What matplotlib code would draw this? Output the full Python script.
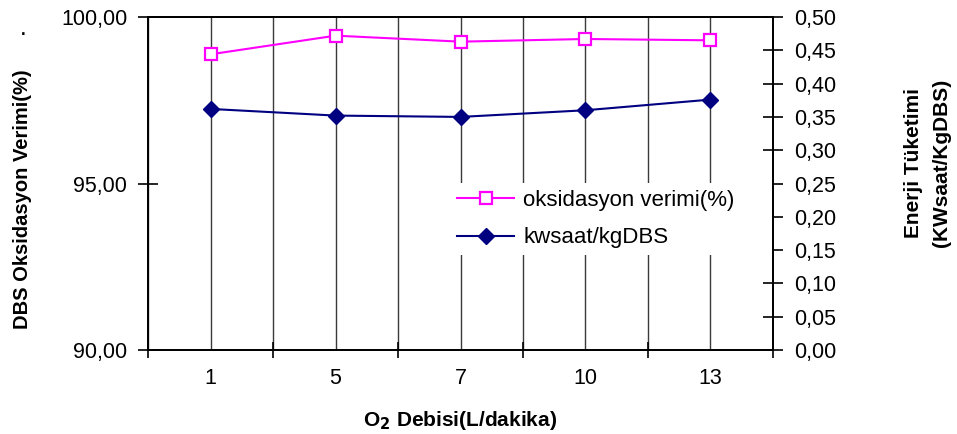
import matplotlib
matplotlib.use("Agg")
import matplotlib.pyplot as plt
from matplotlib.ticker import FixedLocator, FuncFormatter

# O2 flow rates (L/dakika) and the measured series
flow_rates = ["1", "5", "7", "10", "13"]
oxidation_eff = [98.88, 99.44, 99.26, 99.34, 99.30]   # DBS oksidasyon verimi (%)
energy_use = [0.362, 0.352, 0.350, 0.360, 0.376]      # kWsaat / kgDBS

left_ticks = [90, 95, 100]
right_ticks = [0.00, 0.05, 0.10, 0.15, 0.20, 0.25, 0.30, 0.35, 0.40, 0.45, 0.50]

plt.rcParams["font.family"] = ["Liberation Sans", "DejaVu Sans"]

fig = plt.figure(figsize=(9.57, 4.34), dpi=100)
ax = fig.add_axes([0.1547, 0.1935, 0.8077 - 0.1547, 0.9608 - 0.1935])
ax2 = ax.twinx()

x = list(range(len(flow_rates)))

l1, = ax.plot(x, oxidation_eff, color="#FF00FF", lw=1.5, marker="s", ms=8,
              mfc="white", mec="#FF00FF", mew=1.6, label="oksidasyon verimi(%)",
              zorder=3)
l2, = ax2.plot(x, energy_use, color="#000080", lw=1.5, marker="D", ms=8,
               mfc="#000080", mec="#000080", label="kwsaat/kgDBS", zorder=3)

# x axis: labels at category centres, tick marks at category boundaries
ax.set_xlim(-0.5, len(flow_rates) - 0.5)
ax.xaxis.set_major_locator(FixedLocator(x))
ax.set_xticklabels(flow_rates)
ax.xaxis.set_minor_locator(FixedLocator([i - 0.5 for i in range(len(flow_rates) + 1)]))
ax.tick_params(axis="x", which="major", length=0, pad=13, labelsize=15.5)
ax.tick_params(axis="x", which="minor", length=12, direction="inout", width=1.2,
               color="black")
ax.grid(True, axis="x", which="both", color="#3a3a3a", lw=1.0)
ax.set_axisbelow(True)

comma = FuncFormatter(lambda v, p: f"{v:.2f}".replace(".", ","))

ax.set_ylim(90, 100)
ax.yaxis.set_major_locator(FixedLocator(left_ticks))
ax.yaxis.set_major_formatter(comma)
ax.tick_params(axis="y", which="major", length=14, direction="inout", width=1.2,
               pad=8, labelsize=15.5)

ax2.set_ylim(0, 0.5)
ax2.yaxis.set_major_locator(FixedLocator(right_ticks))
ax2.yaxis.set_major_formatter(comma)
ax2.tick_params(axis="y", which="major", length=14, direction="inout", width=1.2,
                pad=8, labelsize=15.5)

for a in (ax, ax2):
    for s in a.spines.values():
        s.set_color("black")
        s.set_linewidth(1.3)

ax.set_xlabel(r"O$_\mathbf{2}$ Debisi(L/dakika)", fontsize=15, fontweight="bold",
              labelpad=14)
fig.text(0.023, 0.54, "DBS Oksidasyon Verimi(%)", rotation=90, fontsize=14.5,
         fontweight="bold", ha="center", va="center")
fig.text(0.024, 0.93, ".", fontsize=12, fontweight="bold", ha="center", va="center")
fig.text(0.969, 0.625, "Enerji Tüketimi\n(KWsaat/KgDBS)", rotation=90, fontsize=15,
         fontweight="bold", ha="center", va="center", linespacing=1.6,
         multialignment="center")

leg = ax2.legend(handles=[l1, l2], loc="upper left",
                 bbox_to_anchor=(450 / 957, 1 - 251 / 434, 322 / 957, 68 / 434),
                 bbox_transform=fig.transFigure, mode="expand",
                 frameon=True, fancybox=False, facecolor="white", edgecolor="none",
                 framealpha=1.0, fontsize=16, handlelength=2.6, handletextpad=0.4,
                 borderpad=0.3, labelspacing=0.75, borderaxespad=0)

fig.savefig("out.png", dpi=100)
